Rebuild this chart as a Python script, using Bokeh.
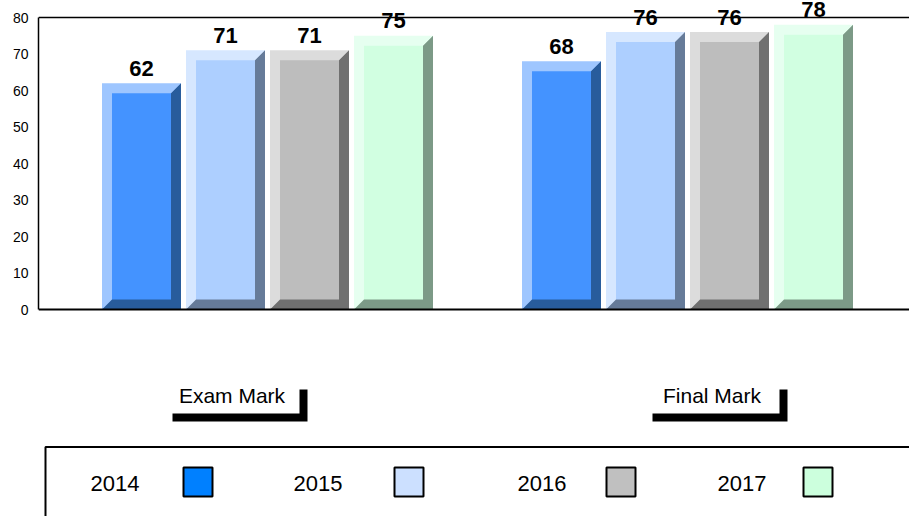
from bokeh.plotting import figure
from bokeh.models import Range1d, FixedTicker, Span, ColumnDataSource
from bokeh.core.properties import value
from bokeh.embed import file_html
from bokeh.resources import INLINE

# ---------------- data ----------------
categories = ["Exam Mark", "Final Mark"]
years = ["2014", "2015", "2016", "2017"]
marks_2014 = [62, 68]
marks_2015 = [71, 76]
marks_2016 = [71, 76]
marks_2017 = [75, 78]
series = [marks_2014, marks_2015, marks_2016, marks_2017]
y_ticks = [0, 10, 20, 30, 40, 50, 60, 70, 80]

# ---------------- styles ----------------
face_colors = ["#4493FF", "#ADCFFF", "#BDBDBD", "#D1FFE1"]
light_colors = ["#9EC6FF", "#D6E7FF", "#DCDCDC", "#E6FFF0"]
dark_colors = ["#285C9C", "#667B99", "#707070", "#7C9A87"]
legend_colors = ["#0080FF", "#CCE0FF", "#C0C0C0", "#CCFFDD"]
FONT = "Liberation Sans"

# ---------------- layout (page pixels) ----------------
W, H = 909, 516
PAGE_OFF = 0
LEFT_BORDER = 38
GROUP_PX = 420.0          # pixels per group unit on the bar axis
GROUP1_CENTER_PX = 267.0
Y0_PX = 309.0             # page y of value 0
Y_PPU = 3.65              # pixels per value unit
BAR_PITCH = 84.0 / GROUP_PX
BAR_W = 79.0 / GROUP_PX
BEVEL_X = 10.0 / GROUP_PX
BEVEL_Y = 10.0 / Y_PPU
LABEL_GAP = 15.0 / Y_PPU
CAT_PX = 480.0
CAT1_CENTER_PX = 239.5


def x_of(px):
    return 1.0 + (px - GROUP1_CENTER_PX) / GROUP_PX


def y_of(py):
    return (Y0_PX - py) / Y_PPU


def cat_of(px):
    return 0.5 + (px - CAT1_CENTER_PX) / CAT_PX


frame_left_px = PAGE_OFF + LEFT_BORDER
p = figure(width=W, height=H, output_backend="svg", toolbar_location=None,
           x_range=Range1d(x_of(frame_left_px), x_of(PAGE_OFF + W)),
           y_range=Range1d(y_of(PAGE_OFF + H), y_of(PAGE_OFF)),
           x_axis_location=None,
           min_border_left=LEFT_BORDER, min_border_right=0,
           min_border_top=0, min_border_bottom=0)
p.extra_x_ranges = {"cat": Range1d(cat_of(frame_left_px), cat_of(PAGE_OFF + W))}
p.outline_line_color = None
p.xgrid.visible = False
p.ygrid.visible = False
p.background_fill_color = "white"
p.border_fill_color = "white"

yax = p.yaxis[0]
yax.bounds = (0, 80)
yax.ticker = FixedTicker(ticks=y_ticks)
yax.major_tick_out = 0
yax.major_tick_in = 0
yax.minor_tick_out = 0
yax.minor_tick_in = 0
yax.major_tick_line_color = None
yax.minor_tick_line_color = None
yax.axis_line_color = "black"
yax.axis_line_width = 1.5
yax.major_label_standoff = 10
yax.major_label_text_font = FONT
yax.major_label_text_font_size = "14px"
yax.major_label_text_color = "black"

# plot area top / base lines
p.add_layout(Span(location=80, dimension="width", line_color="black", line_width=1.5))
p.add_layout(Span(location=0, dimension="width", line_color="black", line_width=2))

# ---------------- bevelled bars ----------------
n = len(series)
for s, vals in enumerate(series):
    off = (s - (n - 1) / 2.0) * BAR_PITCH
    xs_c = [g + 1 + off for g in range(len(categories))]
    src = ColumnDataSource(dict(x=xs_c, top=vals,
                                itop=[v - BEVEL_Y for v in vals],
                                ly=[v + LABEL_GAP for v in vals],
                                txt=[str(v) for v in vals]))
    # light outer body (top & left bevel)
    p.vbar(x="x", top="top", bottom=0, width=BAR_W, source=src,
           fill_color=light_colors[s], line_color=None)
    # dark right & bottom bevel
    pxs, pys = [], []
    for xc, v in zip(xs_c, vals):
        L, R = xc - BAR_W / 2, xc + BAR_W / 2
        pxs.append([L, R, R, R - BEVEL_X, L + BEVEL_X])
        pys.append([0, 0, v, v - BEVEL_Y, BEVEL_Y])
    p.patches(xs=pxs, ys=pys, fill_color=dark_colors[s], line_color=None)
    # face
    p.vbar(x="x", top="itop", bottom=BEVEL_Y, width=BAR_W - 2 * BEVEL_X, source=src,
           fill_color=face_colors[s], line_color=None)
    # value labels
    p.text(x="x", y="ly", text="txt", source=src, text_font=value(FONT),
           text_font_size="22px", text_font_style="bold", text_color="black",
           text_align="center", text_baseline="alphabetic")

# ---------------- category labels with L brackets ----------------
cat_x = [i + 0.5 for i in range(len(categories))]
half = 67.5 / CAT_PX
inner_r = 63.5 / CAT_PX
p.multi_line(xs=[[c - half, c + inner_r, c + inner_r] for c in cat_x],
             ys=[[y_of(417), y_of(417), y_of(389)] for _ in cat_x],
             x_range_name="cat", line_color="black", line_width=8,
             line_join="miter", line_cap="butt")
p.text(x=[c - 8.0 / CAT_PX for c in cat_x], y=[y_of(395)] * len(cat_x), text=categories,
       x_range_name="cat", text_font=value(FONT), text_font_size="21px",
       text_color="black", text_align="center", text_baseline="middle")

# ---------------- legend box ----------------
p.quad(left=[x_of(45)], right=[x_of(1000)], top=[y_of(446.5)], bottom=[y_of(600)],
       fill_color=None, line_color="black", line_width=2)
text_left_px = [90, 293, 517, 717]
swatch_left_px = [183, 394, 606, 803]
p.text(x=[x_of(v) for v in text_left_px], y=[y_of(483)] * n, text=years,
       text_font=value(FONT), text_font_size="22px", text_color="black",
       text_align="left", text_baseline="middle")
p.quad(left=[x_of(v) for v in swatch_left_px],
       right=[x_of(v + 29) for v in swatch_left_px],
       top=[y_of(467)] * n, bottom=[y_of(496)] * n,
       fill_color=legend_colors, line_color="black", line_width=2)

open("out.html", "w").write(file_html(p, INLINE))
